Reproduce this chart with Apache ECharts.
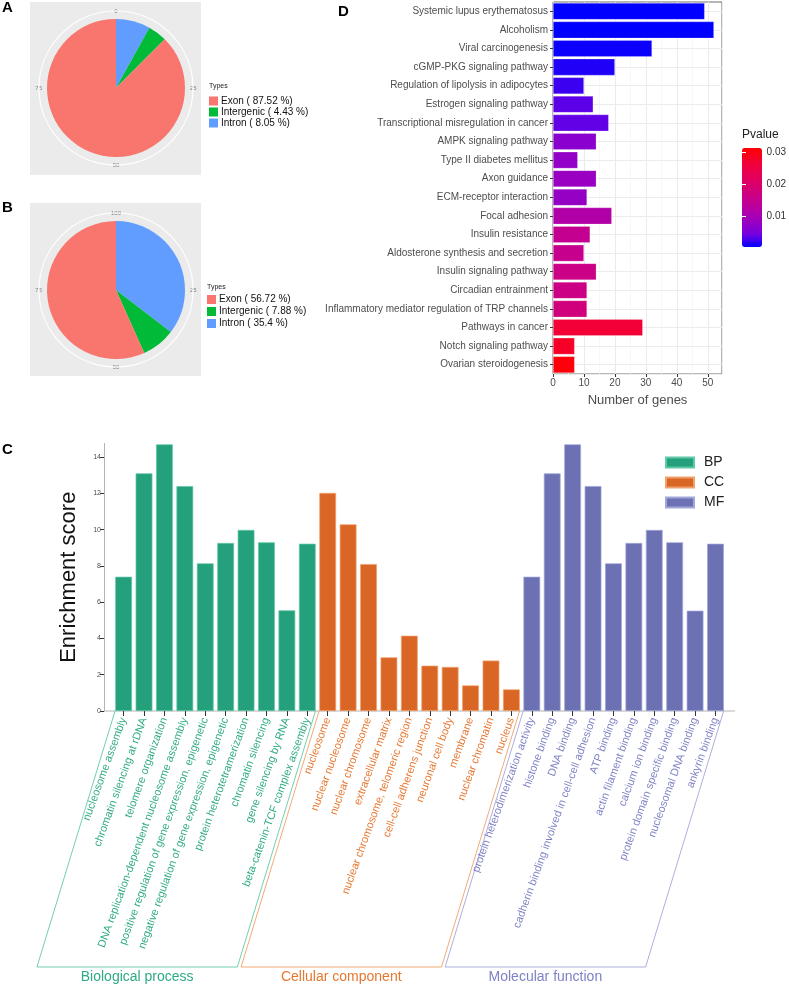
<!DOCTYPE html>
<html><head><meta charset="utf-8">
<script src="https://cdn.jsdelivr.net/npm/echarts@6/dist/echarts.min.js"></script>
<style>html,body{margin:0;padding:0;background:#fff}#c{width:789px;height:992px}</style>
</head><body><div id="c"></div>
<script>
// ---------- Panel A / B : genomic distribution ----------
const pieTypes = ['Exon', 'Intergenic', 'Intron'];
const pieColors = ['#F8766D', '#00BA38', '#619CFF'];
const pieAPercent = [87.52, 4.43, 8.05];
const pieBPercent = [56.72, 7.88, 35.4];
const polarBreaks = [0, 25, 50, 75, 100];

// ---------- Panel D : KEGG ----------
const keggTerms = ['Systemic lupus erythematosus', 'Alcoholism', 'Viral carcinogenesis', 'cGMP-PKG signaling pathway',
  'Regulation of lipolysis in adipocytes', 'Estrogen signaling pathway', 'Transcriptional misregulation in cancer',
  'AMPK signaling pathway', 'Type II diabetes mellitus', 'Axon guidance', 'ECM-receptor interaction', 'Focal adhesion',
  'Insulin resistance', 'Aldosterone synthesis and secretion', 'Insulin signaling pathway', 'Circadian entrainment',
  'Inflammatory mediator regulation of TRP channels', 'Pathways in cancer', 'Notch signaling pathway', 'Ovarian steroidogenesis'];
const keggGenes = [49, 52, 32, 20, 10, 13, 18, 14, 8, 14, 11, 19, 12, 10, 14, 11, 11, 29, 7, 7];
const keggPvalue = [0.00021, 0.0002, 0.00054, 0.0013, 0.0022, 0.0033, 0.0035, 0.0064, 0.0074, 0.0080, 0.0076, 0.0115,
  0.0148, 0.0152, 0.0162, 0.0164, 0.0173, 0.0267, 0.0281, 0.0306];
const geneTicks = [0, 10, 20, 30, 40, 50];
const geneAxisMax = 54.6;
const pvalueTicks = [0.01, 0.02, 0.03];
const pvalueRange = [0.0002, 0.0313];
const pvalueColors = ['#0000FF', '#7300E1', '#9900C2', '#B500A5', '#C90089', '#DA006C', '#E9004F', '#F40031', '#FF0000'];

// ---------- Panel C : GO enrichment ----------
const bpTerms = ['nucleosome assembly', 'chromatin silencing at rDNA', 'telomere organization',
  'DNA replication-dependent nucleosome assembly', 'positive regulation of gene expression, epigenetic',
  'negative regulation of gene expression, epigenetic', 'protein heterotetramerization', 'chromatin silencing',
  'gene silencing by RNA', 'beta-catenin-TCF complex assembly'];
const bpScores = [7.4, 13.1, 14.7, 12.4, 8.14, 9.26, 9.98, 9.3, 5.55, 9.22];
const ccTerms = ['nucleosome', 'nuclear nucleosome', 'nuclear chromosome', 'extracellular matrix',
  'nuclear chromosome, telomeric region', 'cell-cell adherens junction', 'neuronal cell body', 'membrane',
  'nuclear chromatin', 'nucleus'];
const ccScores = [12.02, 10.29, 8.1, 2.96, 4.15, 2.5, 2.43, 1.41, 2.78, 1.19];
const mfTerms = ['protein heterodimerization activity', 'histone binding', 'DNA binding',
  'cadherin binding involved in cell-cell adhesion', 'ATP binding', 'actin filament binding', 'calcium ion binding',
  'protein domain specific binding', 'nucleosomal DNA binding', 'ankyrin binding'];
const mfScores = [7.4, 13.1, 14.7, 12.4, 8.14, 9.26, 9.98, 9.3, 5.53, 9.22];
const goKeys = ['BP', 'CC', 'MF'];
const goNames = ['Biological process', 'Cellular component', 'Molecular function'];
const goBarColors = ['#24A17C', '#DA6625', '#6B71B2'];
const goTextColors = ['#2FAA86', '#E6772F', '#7E82C4'];
const goLineColors = ['#62C9A6', '#F0A06A', '#A3A6DA'];
const enrichTicks = [0, 2, 4, 6, 8, 10, 12, 14];
const enrichMax = 14.75;

// ---------- build ----------
const FONT = '"Liberation Sans", Arial, Helvetica, sans-serif';
const goGroupTerms = [bpTerms, ccTerms, mfTerms];
const goGroupScores = [bpScores, ccScores, mfScores];
const goTerms = [].concat(bpTerms, ccTerms, mfTerms);
const goGroupOf = [];
goGroupTerms.forEach((arr, gi) => arr.forEach(() => goGroupOf.push(gi)));

const cGrid = { left: 113.4, top: 711 - enrichMax * 18.14, width: 612.3, height: enrichMax * 18.14 };
const dGrid = { left: 553, top: 2, width: 169, height: 372 };
const cbGrid = { left: 742, top: 148, width: 20, height: 99 };

function pieData(pcts) {
  return [2, 1, 0].map(i => ({ name: `${pieTypes[i]} ( ${pcts[i]} %)`, value: pcts[i], itemStyle: { color: pieColors[i] } }));
}
function legendNames(pcts) { return pieTypes.map((t, i) => `${t} ( ${pcts[i]} %)`); }

const titleStyle = { fontSize: 15, fontWeight: 'bold', color: '#000', fontFamily: FONT };
const halfRows = Array.from({ length: keggTerms.length * 2 }, (_, i) => 'r' + i);

const series = [
  {
    type: 'bar', name: 'KEGG', xAxisIndex: 0, yAxisIndex: 0,
    data: keggTerms.map((t, i) => [keggGenes[i], t, keggPvalue[i]]),
    encode: { x: 0, y: 1 }, barCategoryGap: '10%', silent: true,
    itemStyle: { borderColor: 'rgba(255,255,255,0.35)', borderWidth: 0.6 }
  }
];
goKeys.forEach((k, gi) => {
  series.push({
    type: 'bar', name: k, xAxisIndex: 1, yAxisIndex: 2, barWidth: '82%', barGap: '-100%', silent: true,
    data: goTerms.map((t, i) => goGroupOf[i] === gi ? goGroupScores[gi][goGroupTerms[gi].indexOf(t)] : '-'),
    itemStyle: { color: goBarColors[gi], borderColor: goLineColors[gi], borderWidth: 0.7 }
  });
});
[[pieAPercent, [116, 88]], [pieBPercent, [116, 290]]].forEach(([p, c]) => {
  series.push({
    type: 'pie', center: c, radius: 69, startAngle: 90, clockwise: true, silent: true,
    label: { show: false }, labelLine: { show: false }, data: pieData(p), z: 3
  });
});
series.push({ type: 'scatter', coordinateSystem: 'polar', polarIndex: 0, data: [], silent: true });
series.push({ type: 'scatter', coordinateSystem: 'polar', polarIndex: 1, data: [], silent: true });

function angleAxis(idx, fmt) {
  return {
    polarIndex: idx, type: 'value', min: polarBreaks[0], max: polarBreaks[polarBreaks.length - 1], interval: 25,
    startAngle: 90, clockwise: true,
    axisLine: { show: true, lineStyle: { color: '#ffffff', width: 1.2 } },
    axisTick: { show: false }, splitLine: { show: false },
    axisLabel: { fontSize: 6, color: '#7f7f7f', margin: -3, formatter: fmt }
  };
}

const option = {
  animation: false,
  backgroundColor: '#ffffff',
  textStyle: { fontFamily: FONT },
  title: [
    { text: 'A', left: 2, top: 0, padding: 0, textStyle: titleStyle },
    { text: 'B', left: 2, top: 200, padding: 0, textStyle: titleStyle },
    { text: 'C', left: 2, top: 442, padding: 0, textStyle: titleStyle },
    { text: 'D', left: 338, top: 4, padding: 0, textStyle: titleStyle },
    { text: 'Types', left: 209, top: 83, padding: 0, textStyle: { fontSize: 7, color: '#222', fontWeight: 'normal', fontFamily: FONT } },
    { text: 'Types', left: 207, top: 284, padding: 0, textStyle: { fontSize: 7, color: '#222', fontWeight: 'normal', fontFamily: FONT } },
    { text: 'Pvalue', left: 742, top: 129, padding: 0, textStyle: { fontSize: 12, color: '#222', fontWeight: 'normal', fontFamily: FONT } }
  ],
  legend: [
    { data: legendNames(pieAPercent), orient: 'vertical', left: 209, top: 96, padding: 0, itemWidth: 9, itemHeight: 9, itemGap: 1,
      icon: 'rect', selectedMode: false, textStyle: { fontSize: 10, color: '#111', lineHeight: 10, padding: [0, 0, 0, -2] } },
    { data: legendNames(pieBPercent), orient: 'vertical', left: 207, top: 294, padding: 0, itemWidth: 9, itemHeight: 9, itemGap: 1,
      icon: 'rect', selectedMode: false, textStyle: { fontSize: 10, color: '#111', lineHeight: 11, padding: [0, 0, 0, -2] } },
    { data: goKeys, orient: 'vertical', left: 665, top: 455, padding: 0, itemWidth: 28, itemHeight: 10, itemGap: 5,
      icon: 'rect', selectedMode: false, textStyle: { fontSize: 14, color: '#222', lineHeight: 15, padding: [0, 0, 0, 5] } }
  ],
  polar: [{ center: [116, 88], radius: 77 }, { center: [116, 290], radius: 77 }],
  angleAxis: [
    angleAxis(0, v => v === 100 ? '' : String(v)),
    angleAxis(1, v => v === 100 ? '' : (v === 0 ? '100' : String(v)))
  ],
  radiusAxis: [{ polarIndex: 0, show: false }, { polarIndex: 1, show: false }],
  grid: [
    Object.assign({ show: true, borderColor: '#6e6e6e', borderWidth: 1, backgroundColor: '#fff' }, dGrid),
    Object.assign({}, cGrid),
    Object.assign({}, cbGrid)
  ],
  xAxis: [
    { gridIndex: 0, type: 'value', min: geneTicks[0], max: geneAxisMax, interval: geneTicks[1] - geneTicks[0],
      axisLine: { show: false }, axisTick: { show: true, length: 3, lineStyle: { color: '#333' } },
      axisLabel: { fontSize: 10, color: '#4d4d4d', margin: 4, showMaxLabel: false },
      splitLine: { show: true, lineStyle: { color: '#ebebeb', width: 1 } },
      minorTick: { show: false, splitNumber: 2 }, minorSplitLine: { show: true, lineStyle: { color: '#f4f4f4', width: 0.7 } },
      name: 'Number of genes', nameLocation: 'middle', nameGap: 20, nameTextStyle: { fontSize: 13, color: '#4d4d4d' } },
    { gridIndex: 1, type: 'category', data: goTerms,
      axisLine: { show: false },
      axisTick: { show: true, alignWithLabel: true, interval: 0, length: 5, lineStyle: { color: '#333' } },
      axisLabel: { interval: 0, rotate: 70, fontSize: 11, margin: 7, color: (v, i) => goTextColors[goGroupOf[i]] } },
    { gridIndex: 2, type: 'value', show: false }
  ],
  yAxis: [
    { gridIndex: 0, type: 'category', data: keggTerms, inverse: true,
      axisLine: { show: false }, axisTick: { show: true, alignWithLabel: true, interval: 0, length: 3, lineStyle: { color: '#333' } },
      axisLabel: { fontSize: 10, color: '#4d4d4d', margin: 5, interval: 0 }, splitLine: { show: false } },
    { gridIndex: 0, type: 'category', data: halfRows, inverse: true, position: 'right',
      axisLine: { show: false }, axisTick: { show: false }, axisLabel: { show: false },
      splitLine: { show: true, interval: (i) => i % 2 === 1, lineStyle: { color: '#ebebeb', width: 1 } } },
    { gridIndex: 1, type: 'value', min: enrichTicks[0], max: enrichMax, interval: enrichTicks[1] - enrichTicks[0], offset: 9.4,
      axisLine: { show: true, lineStyle: { color: '#b3b3b3', width: 1 } },
      axisTick: { show: true, length: 4, lineStyle: { color: '#333' } },
      axisLabel: { fontSize: 7, color: '#4d4d4d', margin: 3, showMaxLabel: false }, splitLine: { show: false },
      name: 'Enrichment score', nameLocation: 'middle', nameGap: 24, nameTextStyle: { fontSize: 22, color: '#111' } },
    { gridIndex: 2, type: 'value', position: 'right', min: pvalueRange[0], max: pvalueRange[1], z: 10,
      axisLine: { show: false },
      axisTick: { show: true, inside: true, length: 4, customValues: pvalueTicks, lineStyle: { color: '#ffffff', width: 1 } },
      axisLabel: { customValues: pvalueTicks, formatter: v => v.toFixed(2), fontSize: 10, color: '#333', margin: 6 },
      splitLine: { show: false } },
    { gridIndex: 2, type: 'value', position: 'left', min: pvalueRange[0], max: pvalueRange[1], z: 10,
      axisLine: { show: false },
      axisTick: { show: true, inside: true, length: 4, customValues: pvalueTicks, lineStyle: { color: '#ffffff', width: 1 } },
      axisLabel: { show: false }, splitLine: { show: false } }
  ],
  visualMap: [{
    type: 'continuous', seriesIndex: 0, dimension: 2, min: pvalueRange[0], max: pvalueRange[1],
    left: cbGrid.left, top: cbGrid.top, itemWidth: cbGrid.width, itemHeight: cbGrid.height, padding: 0,
    calculable: false, text: null, showLabel: false, realtime: false, hoverLink: false,
    inRange: { color: pvalueColors }, textStyle: { color: 'transparent', fontSize: 1 }, formatter: () => ''
  }],
  series: series
};

const chart = echarts.init(document.getElementById('c'), null, { renderer: 'canvas' });
chart.setOption(option);

// ---------- decorations computed from the axes ----------
const graphics = [
  { type: 'rect', shape: { x: 30, y: 2, width: 171, height: 173 }, style: { fill: '#EBEBEB' }, z: -10, silent: true },
  { type: 'rect', shape: { x: 30, y: 203, width: 171, height: 173 }, style: { fill: '#EBEBEB' }, z: -10, silent: true }
];
const y0 = chart.convertToPixel({ yAxisIndex: 2 }, 0);
const band = cGrid.width / goTerms.length;
const axisLeft = cGrid.left - 9.4;
graphics.push({ type: 'line', shape: { x1: axisLeft, y1: y0, x2: cGrid.left + cGrid.width + 9.4, y2: y0 },
  style: { stroke: '#b3b3b3', lineWidth: 1 }, silent: true });
const drop = 256, slope = 0.305;
let start = 0;
goGroupTerms.forEach((arr, gi) => {
  const first = chart.convertToPixel({ xAxisIndex: 1 }, start);
  const last = chart.convertToPixel({ xAxisIndex: 1 }, start + arr.length - 1);
  start += arr.length;
  const xl = first - 0.42 * band, xr = last + 0.4 * band, sh = drop * slope;
  graphics.push({ type: 'polyline', shape: { points: [[xl, y0], [xl - sh, y0 + drop], [xr - sh, y0 + drop], [xr, y0]] },
    style: { stroke: goLineColors[gi], lineWidth: 0.9, fill: null }, silent: true });
  graphics.push({ type: 'text', x: (xl + xr) / 2 - sh, y: y0 + drop + 3,
    style: { text: goNames[gi], fill: goTextColors[gi], font: '14px ' + FONT, textAlign: 'center', textVerticalAlign: 'top' }, silent: true });
});
chart.setOption({ graphic: { elements: graphics } });
</script></body></html>
